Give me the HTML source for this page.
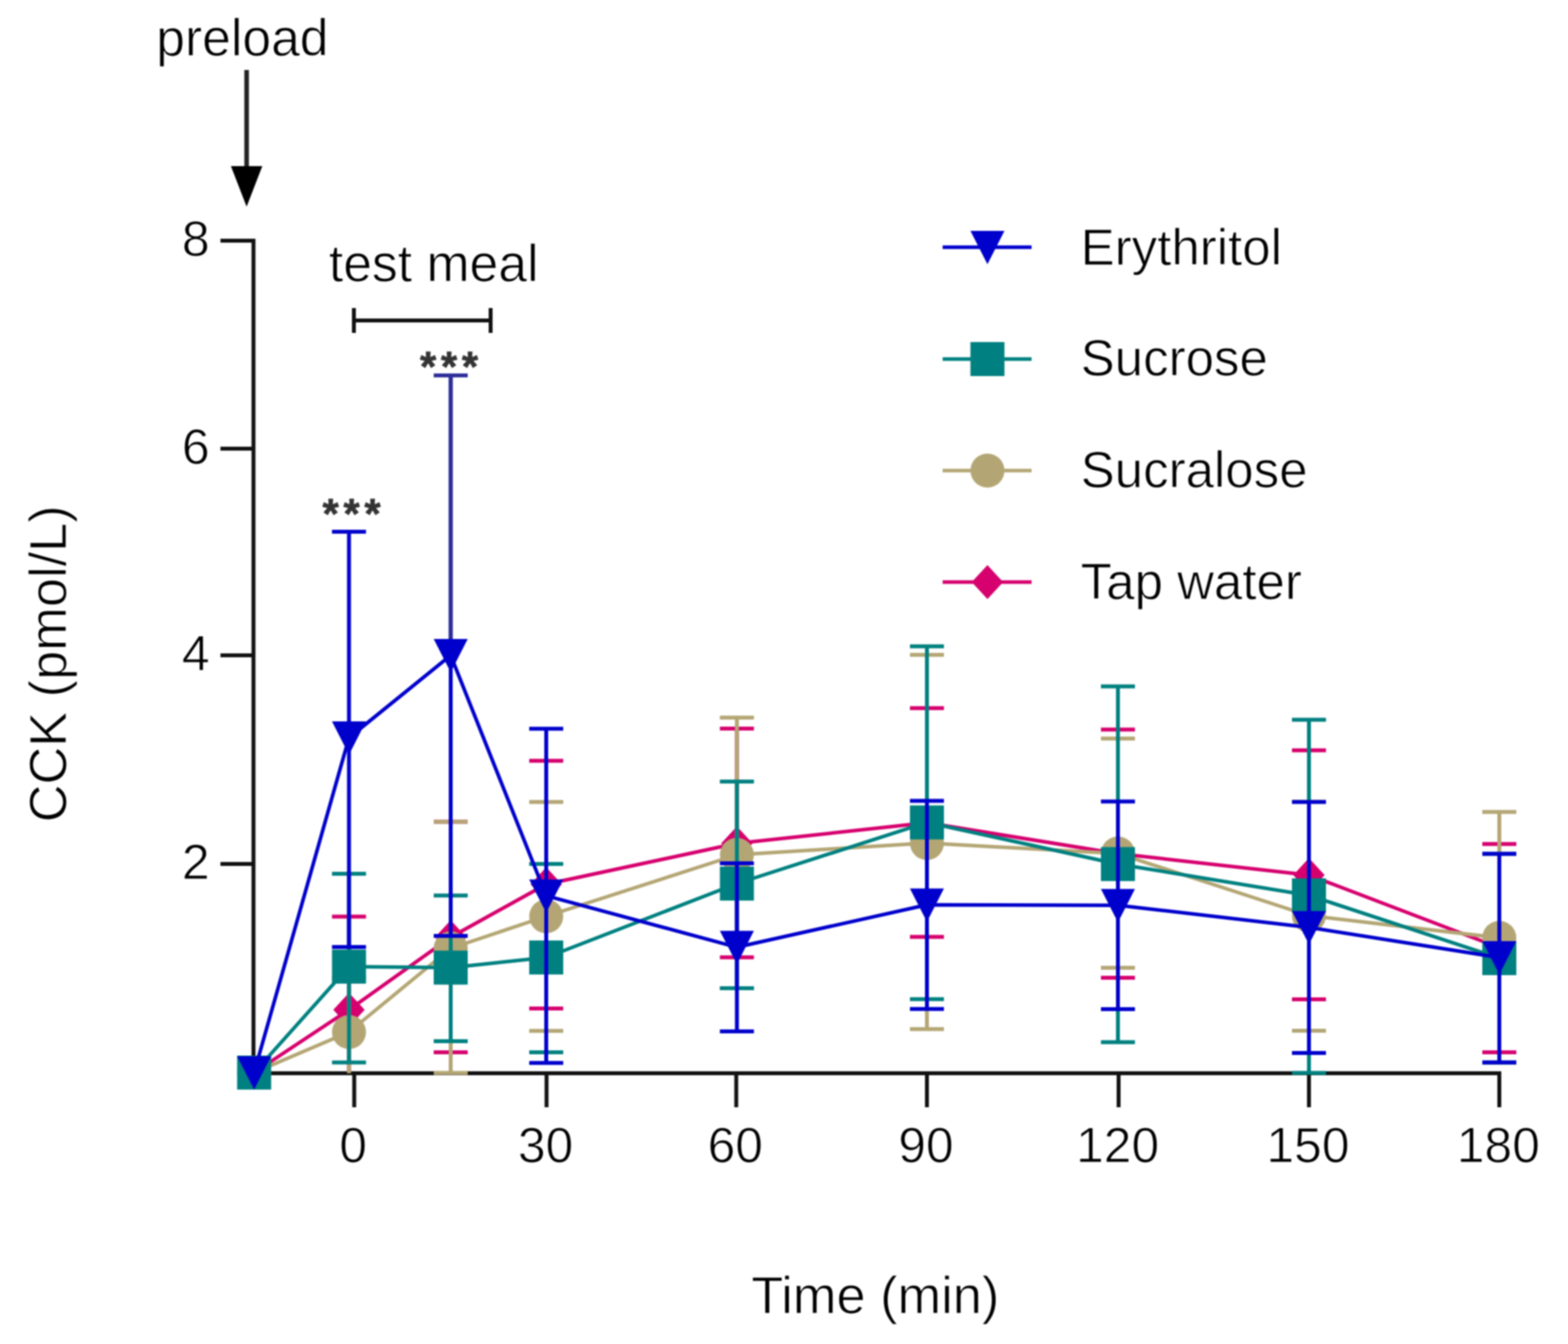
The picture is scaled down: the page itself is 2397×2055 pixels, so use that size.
<!DOCTYPE html>
<html><head><meta charset="utf-8"><title>CCK</title>
<style>html,body{margin:0;padding:0;background:#fff;overflow:hidden;}svg{display:block;filter:blur(1px);}</style>
</head><body>
<svg width="2397" height="2055" viewBox="0 0 2397 2055"><style>text{stroke:#fff;stroke-width:1.1px;}</style><rect width="2397" height="2055" fill="#fff"/><line x1="387.5" y1="365" x2="387.5" y2="1644" stroke="#111" stroke-width="6"/><line x1="337" y1="368" x2="390" y2="368" stroke="#111" stroke-width="6"/><line x1="337" y1="686" x2="390" y2="686" stroke="#111" stroke-width="6"/><line x1="337" y1="1002" x2="390" y2="1002" stroke="#111" stroke-width="6"/><line x1="337" y1="1321" x2="390" y2="1321" stroke="#111" stroke-width="6"/><line x1="385" y1="1641" x2="2295" y2="1641" stroke="#111" stroke-width="6"/><line x1="541.5" y1="1638" x2="541.5" y2="1693" stroke="#111" stroke-width="6"/><line x1="835.5" y1="1638" x2="835.5" y2="1693" stroke="#111" stroke-width="6"/><line x1="1125.5" y1="1638" x2="1125.5" y2="1693" stroke="#111" stroke-width="6"/><line x1="1417" y1="1638" x2="1417" y2="1693" stroke="#111" stroke-width="6"/><line x1="1710" y1="1638" x2="1710" y2="1693" stroke="#111" stroke-width="6"/><line x1="2001" y1="1638" x2="2001" y2="1693" stroke="#111" stroke-width="6"/><line x1="2292" y1="1638" x2="2292" y2="1693" stroke="#111" stroke-width="6"/><g><line x1="533.5" y1="1401.6" x2="533.5" y2="1641.0" stroke="#D6006E" stroke-width="6"/><line x1="507.5" y1="1401.6" x2="559.5" y2="1401.6" stroke="#D6006E" stroke-width="6"/><line x1="689" y1="1256.6" x2="689" y2="1609.0" stroke="#D6006E" stroke-width="6"/><line x1="663.0" y1="1256.6" x2="715.0" y2="1256.6" stroke="#D6006E" stroke-width="6"/><line x1="663.0" y1="1609.0" x2="715.0" y2="1609.0" stroke="#D6006E" stroke-width="6"/><line x1="835" y1="1163.3" x2="835" y2="1542.0" stroke="#D6006E" stroke-width="6"/><line x1="809.0" y1="1163.3" x2="861.0" y2="1163.3" stroke="#D6006E" stroke-width="6"/><line x1="809.0" y1="1542.0" x2="861.0" y2="1542.0" stroke="#D6006E" stroke-width="6"/><line x1="1126.5" y1="1114.0" x2="1126.5" y2="1463.7" stroke="#D6006E" stroke-width="6"/><line x1="1100.5" y1="1114.0" x2="1152.5" y2="1114.0" stroke="#D6006E" stroke-width="6"/><line x1="1100.5" y1="1463.7" x2="1152.5" y2="1463.7" stroke="#D6006E" stroke-width="6"/><line x1="1417" y1="1082.8" x2="1417" y2="1432.4" stroke="#D6006E" stroke-width="6"/><line x1="1391.0" y1="1082.8" x2="1443.0" y2="1082.8" stroke="#D6006E" stroke-width="6"/><line x1="1391.0" y1="1432.4" x2="1443.0" y2="1432.4" stroke="#D6006E" stroke-width="6"/><line x1="1709" y1="1115.6" x2="1709" y2="1495.0" stroke="#D6006E" stroke-width="6"/><line x1="1683.0" y1="1115.6" x2="1735.0" y2="1115.6" stroke="#D6006E" stroke-width="6"/><line x1="1683.0" y1="1495.0" x2="1735.0" y2="1495.0" stroke="#D6006E" stroke-width="6"/><line x1="2001" y1="1147.2" x2="2001" y2="1528.0" stroke="#D6006E" stroke-width="6"/><line x1="1975.0" y1="1147.2" x2="2027.0" y2="1147.2" stroke="#D6006E" stroke-width="6"/><line x1="1975.0" y1="1528.0" x2="2027.0" y2="1528.0" stroke="#D6006E" stroke-width="6"/><line x1="2292" y1="1290.6" x2="2292" y2="1609.0" stroke="#D6006E" stroke-width="6"/><line x1="2266.0" y1="1290.6" x2="2318.0" y2="1290.6" stroke="#D6006E" stroke-width="6"/><line x1="2266.0" y1="1609.0" x2="2318.0" y2="1609.0" stroke="#D6006E" stroke-width="6"/><polyline points="388.5,1640.0 533.5,1544.0 689,1433.0 835,1352.0 1126.5,1289.5 1417,1258.0 1709,1305.3 2001,1338.0 2292,1449.0" fill="none" stroke="#D6006E" stroke-width="5.5" stroke-linejoin="round"/><path d="M388.5,1614.0L412.5,1640.0L388.5,1666.0L364.5,1640.0Z" fill="#D6006E"/><path d="M533.5,1518.0L557.5,1544.0L533.5,1570.0L509.5,1544.0Z" fill="#D6006E"/><path d="M689.0,1407.0L713.0,1433.0L689.0,1459.0L665.0,1433.0Z" fill="#D6006E"/><path d="M835.0,1326.0L859.0,1352.0L835.0,1378.0L811.0,1352.0Z" fill="#D6006E"/><path d="M1126.5,1263.5L1150.5,1289.5L1126.5,1315.5L1102.5,1289.5Z" fill="#D6006E"/><path d="M1417.0,1232.0L1441.0,1258.0L1417.0,1284.0L1393.0,1258.0Z" fill="#D6006E"/><path d="M1709.0,1279.3L1733.0,1305.3L1709.0,1331.3L1685.0,1305.3Z" fill="#D6006E"/><path d="M2001.0,1312.0L2025.0,1338.0L2001.0,1364.0L1977.0,1338.0Z" fill="#D6006E"/><path d="M2292.0,1423.0L2316.0,1449.0L2292.0,1475.0L2268.0,1449.0Z" fill="#D6006E"/></g><g><line x1="533.5" y1="1495.0" x2="533.5" y2="1641.0" stroke="#B4A674" stroke-width="6"/><line x1="507.5" y1="1495.0" x2="559.5" y2="1495.0" stroke="#B4A674" stroke-width="6"/><line x1="689" y1="1256.6" x2="689" y2="1640.5" stroke="#B4A674" stroke-width="6"/><line x1="663.0" y1="1256.6" x2="715.0" y2="1256.6" stroke="#B4A674" stroke-width="6"/><line x1="663.0" y1="1640.5" x2="715.0" y2="1640.5" stroke="#B4A674" stroke-width="6"/><line x1="835" y1="1226.3" x2="835" y2="1576.3" stroke="#B4A674" stroke-width="6"/><line x1="809.0" y1="1226.3" x2="861.0" y2="1226.3" stroke="#B4A674" stroke-width="6"/><line x1="809.0" y1="1576.3" x2="861.0" y2="1576.3" stroke="#B4A674" stroke-width="6"/><line x1="1126.5" y1="1097.2" x2="1126.5" y2="1511.0" stroke="#B4A674" stroke-width="6"/><line x1="1100.5" y1="1097.2" x2="1152.5" y2="1097.2" stroke="#B4A674" stroke-width="6"/><line x1="1100.5" y1="1511.0" x2="1152.5" y2="1511.0" stroke="#B4A674" stroke-width="6"/><line x1="1417" y1="1001.3" x2="1417" y2="1573.4" stroke="#B4A674" stroke-width="6"/><line x1="1391.0" y1="1001.3" x2="1443.0" y2="1001.3" stroke="#B4A674" stroke-width="6"/><line x1="1391.0" y1="1573.4" x2="1443.0" y2="1573.4" stroke="#B4A674" stroke-width="6"/><line x1="1709" y1="1129.3" x2="1709" y2="1479.8" stroke="#B4A674" stroke-width="6"/><line x1="1683.0" y1="1129.3" x2="1735.0" y2="1129.3" stroke="#B4A674" stroke-width="6"/><line x1="1683.0" y1="1479.8" x2="1735.0" y2="1479.8" stroke="#B4A674" stroke-width="6"/><line x1="2001" y1="1225.8" x2="2001" y2="1576.0" stroke="#B4A674" stroke-width="6"/><line x1="1975.0" y1="1225.8" x2="2027.0" y2="1225.8" stroke="#B4A674" stroke-width="6"/><line x1="1975.0" y1="1576.0" x2="2027.0" y2="1576.0" stroke="#B4A674" stroke-width="6"/><line x1="2292" y1="1241.4" x2="2292" y2="1625.0" stroke="#B4A674" stroke-width="6"/><line x1="2266.0" y1="1241.4" x2="2318.0" y2="1241.4" stroke="#B4A674" stroke-width="6"/><line x1="2266.0" y1="1625.0" x2="2318.0" y2="1625.0" stroke="#B4A674" stroke-width="6"/><polyline points="388.5,1640.0 533.5,1578.0 689,1450.0 835,1401.0 1126.5,1307.0 1417,1289.0 1709,1305.0 2001,1400.0 2292,1434.0" fill="none" stroke="#B4A674" stroke-width="5.5" stroke-linejoin="round"/><circle cx="388.5" cy="1640.0" r="26" fill="#B4A674"/><circle cx="533.5" cy="1578.0" r="26" fill="#B4A674"/><circle cx="689.0" cy="1450.0" r="26" fill="#B4A674"/><circle cx="835.0" cy="1401.0" r="26" fill="#B4A674"/><circle cx="1126.5" cy="1307.0" r="26" fill="#B4A674"/><circle cx="1417.0" cy="1289.0" r="26" fill="#B4A674"/><circle cx="1709.0" cy="1305.0" r="26" fill="#B4A674"/><circle cx="2001.0" cy="1400.0" r="26" fill="#B4A674"/><circle cx="2292.0" cy="1434.0" r="26" fill="#B4A674"/></g><g><line x1="533.5" y1="1336.0" x2="533.5" y2="1624.6" stroke="#008080" stroke-width="6"/><line x1="507.5" y1="1336.0" x2="559.5" y2="1336.0" stroke="#008080" stroke-width="6"/><line x1="507.5" y1="1624.6" x2="559.5" y2="1624.6" stroke="#008080" stroke-width="6"/><line x1="689" y1="1369.3" x2="689" y2="1592.0" stroke="#008080" stroke-width="6"/><line x1="663.0" y1="1369.3" x2="715.0" y2="1369.3" stroke="#008080" stroke-width="6"/><line x1="663.0" y1="1592.0" x2="715.0" y2="1592.0" stroke="#008080" stroke-width="6"/><line x1="835" y1="1321.0" x2="835" y2="1609.0" stroke="#008080" stroke-width="6"/><line x1="809.0" y1="1321.0" x2="861.0" y2="1321.0" stroke="#008080" stroke-width="6"/><line x1="809.0" y1="1609.0" x2="861.0" y2="1609.0" stroke="#008080" stroke-width="6"/><line x1="1126.5" y1="1195.0" x2="1126.5" y2="1511.0" stroke="#008080" stroke-width="6"/><line x1="1100.5" y1="1195.0" x2="1152.5" y2="1195.0" stroke="#008080" stroke-width="6"/><line x1="1100.5" y1="1511.0" x2="1152.5" y2="1511.0" stroke="#008080" stroke-width="6"/><line x1="1417" y1="988.3" x2="1417" y2="1527.7" stroke="#008080" stroke-width="6"/><line x1="1391.0" y1="988.3" x2="1443.0" y2="988.3" stroke="#008080" stroke-width="6"/><line x1="1391.0" y1="1527.7" x2="1443.0" y2="1527.7" stroke="#008080" stroke-width="6"/><line x1="1709" y1="1049.6" x2="1709" y2="1593.4" stroke="#008080" stroke-width="6"/><line x1="1683.0" y1="1049.6" x2="1735.0" y2="1049.6" stroke="#008080" stroke-width="6"/><line x1="1683.0" y1="1593.4" x2="1735.0" y2="1593.4" stroke="#008080" stroke-width="6"/><line x1="2001" y1="1100.5" x2="2001" y2="1640.4" stroke="#008080" stroke-width="6"/><line x1="1975.0" y1="1100.5" x2="2027.0" y2="1100.5" stroke="#008080" stroke-width="6"/><line x1="1975.0" y1="1640.4" x2="2027.0" y2="1640.4" stroke="#008080" stroke-width="6"/><line x1="2292" y1="1305.4" x2="2292" y2="1624.5" stroke="#008080" stroke-width="6"/><line x1="2266.0" y1="1305.4" x2="2318.0" y2="1305.4" stroke="#008080" stroke-width="6"/><line x1="2266.0" y1="1624.5" x2="2318.0" y2="1624.5" stroke="#008080" stroke-width="6"/><polyline points="388.5,1640.0 533.5,1478.0 689,1479.5 835,1464.0 1126.5,1351.0 1417,1257.5 1709,1321.2 2001,1369.0 2292,1465.0" fill="none" stroke="#008080" stroke-width="5.5" stroke-linejoin="round"/><rect x="362.5" y="1614.0" width="52" height="52" fill="#008080"/><rect x="507.5" y="1452.0" width="52" height="52" fill="#008080"/><rect x="663.0" y="1453.5" width="52" height="52" fill="#008080"/><rect x="809.0" y="1438.0" width="52" height="52" fill="#008080"/><rect x="1100.5" y="1325.0" width="52" height="52" fill="#008080"/><rect x="1391.0" y="1231.5" width="52" height="52" fill="#008080"/><rect x="1683.0" y="1295.2" width="52" height="52" fill="#008080"/><rect x="1975.0" y="1343.0" width="52" height="52" fill="#008080"/><rect x="2266.0" y="1439.0" width="52" height="52" fill="#008080"/></g><g><line x1="533.5" y1="813.0" x2="533.5" y2="1448.0" stroke="#0000CC" stroke-width="6"/><line x1="507.5" y1="813.0" x2="559.5" y2="813.0" stroke="#0000CC" stroke-width="6"/><line x1="507.5" y1="1448.0" x2="559.5" y2="1448.0" stroke="#0000CC" stroke-width="6"/><line x1="689" y1="574.0" x2="689" y2="1431.0" stroke="#0000CC" stroke-width="6"/><line x1="689" y1="574.0" x2="689" y2="1002.0" stroke="#2E2E9A" stroke-width="6.5"/><line x1="663.0" y1="574.0" x2="715.0" y2="574.0" stroke="#2E2E9A" stroke-width="6"/><line x1="663.0" y1="1431.0" x2="715.0" y2="1431.0" stroke="#0000CC" stroke-width="6"/><line x1="835" y1="1114.3" x2="835" y2="1625.3" stroke="#0000CC" stroke-width="6"/><line x1="809.0" y1="1114.3" x2="861.0" y2="1114.3" stroke="#0000CC" stroke-width="6"/><line x1="809.0" y1="1625.3" x2="861.0" y2="1625.3" stroke="#0000CC" stroke-width="6"/><line x1="1126.5" y1="1320.0" x2="1126.5" y2="1577.0" stroke="#0000CC" stroke-width="6"/><line x1="1100.5" y1="1320.0" x2="1152.5" y2="1320.0" stroke="#0000CC" stroke-width="6"/><line x1="1100.5" y1="1577.0" x2="1152.5" y2="1577.0" stroke="#0000CC" stroke-width="6"/><line x1="1417" y1="1224.6" x2="1417" y2="1542.7" stroke="#0000CC" stroke-width="6"/><line x1="1391.0" y1="1224.6" x2="1443.0" y2="1224.6" stroke="#0000CC" stroke-width="6"/><line x1="1391.0" y1="1542.7" x2="1443.0" y2="1542.7" stroke="#0000CC" stroke-width="6"/><line x1="1709" y1="1225.6" x2="1709" y2="1543.0" stroke="#0000CC" stroke-width="6"/><line x1="1683.0" y1="1225.6" x2="1735.0" y2="1225.6" stroke="#0000CC" stroke-width="6"/><line x1="1683.0" y1="1543.0" x2="1735.0" y2="1543.0" stroke="#0000CC" stroke-width="6"/><line x1="2001" y1="1226.2" x2="2001" y2="1610.0" stroke="#0000CC" stroke-width="6"/><line x1="1975.0" y1="1226.2" x2="2027.0" y2="1226.2" stroke="#0000CC" stroke-width="6"/><line x1="1975.0" y1="1610.0" x2="2027.0" y2="1610.0" stroke="#0000CC" stroke-width="6"/><line x1="2292" y1="1305.4" x2="2292" y2="1624.5" stroke="#0000CC" stroke-width="6"/><line x1="2266.0" y1="1305.4" x2="2318.0" y2="1305.4" stroke="#0000CC" stroke-width="6"/><line x1="2266.0" y1="1624.5" x2="2318.0" y2="1624.5" stroke="#0000CC" stroke-width="6"/><polyline points="388.5,1640.0 533.5,1128.0 689,1002.0 835,1369.7 1126.5,1448.3 1417,1383.5 1709,1384.2 2001,1418.0 2292,1464.0" fill="none" stroke="#0000CC" stroke-width="5.5" stroke-linejoin="round"/><path d="M362.5,1615.0H414.5L388.5,1666.0Z" fill="#0000CC"/><path d="M507.5,1103.0H559.5L533.5,1154.0Z" fill="#0000CC"/><path d="M663.0,977.0H715.0L689.0,1028.0Z" fill="#0000CC"/><path d="M809.0,1344.7H861.0L835.0,1395.7Z" fill="#0000CC"/><path d="M1100.5,1423.3H1152.5L1126.5,1474.3Z" fill="#0000CC"/><path d="M1391.0,1358.5H1443.0L1417.0,1409.5Z" fill="#0000CC"/><path d="M1683.0,1359.2H1735.0L1709.0,1410.2Z" fill="#0000CC"/><path d="M1975.0,1393.0H2027.0L2001.0,1444.0Z" fill="#0000CC"/><path d="M2266.0,1439.0H2318.0L2292.0,1490.0Z" fill="#0000CC"/></g><text x="370.5" y="85" font-family="'Liberation Sans', Arial, sans-serif" font-size="79" text-anchor="middle" fill="#000">preload</text><line x1="377" y1="107" x2="377" y2="258" stroke="#222" stroke-width="7"/><path d="M353,254H401L377,316Z" fill="#000"/><text x="663" y="430" font-family="'Liberation Sans', Arial, sans-serif" font-size="79" text-anchor="middle" fill="#000">test meal</text><line x1="541" y1="490" x2="750" y2="490" stroke="#111" stroke-width="6"/><line x1="541" y1="471" x2="541" y2="509" stroke="#111" stroke-width="6"/><line x1="750" y1="471" x2="750" y2="509" stroke="#111" stroke-width="6"/><text x="541" y="808" font-family="'Liberation Sans', Arial, sans-serif" font-size="64" font-weight="bold" letter-spacing="7.1" text-anchor="middle" fill="#333" style="stroke:#333;stroke-width:0.8px;stroke-linejoin:round">***</text><text x="690" y="583" font-family="'Liberation Sans', Arial, sans-serif" font-size="64" font-weight="bold" letter-spacing="7.1" text-anchor="middle" fill="#333" style="stroke:#333;stroke-width:0.8px;stroke-linejoin:round">***</text><text x="320.5" y="391" font-family="'Liberation Sans', Arial, sans-serif" font-size="76.5" text-anchor="end" fill="#000">8</text><text x="320.5" y="709" font-family="'Liberation Sans', Arial, sans-serif" font-size="76.5" text-anchor="end" fill="#000">6</text><text x="320.5" y="1025" font-family="'Liberation Sans', Arial, sans-serif" font-size="76.5" text-anchor="end" fill="#000">4</text><text x="320.5" y="1344" font-family="'Liberation Sans', Arial, sans-serif" font-size="76.5" text-anchor="end" fill="#000">2</text><text x="540.0" y="1776.5" font-family="'Liberation Sans', Arial, sans-serif" font-size="76" text-anchor="middle" fill="#000">0</text><text x="834.0" y="1776.5" font-family="'Liberation Sans', Arial, sans-serif" font-size="76" text-anchor="middle" fill="#000">30</text><text x="1124.0" y="1776.5" font-family="'Liberation Sans', Arial, sans-serif" font-size="76" text-anchor="middle" fill="#000">60</text><text x="1415.5" y="1776.5" font-family="'Liberation Sans', Arial, sans-serif" font-size="76" text-anchor="middle" fill="#000">90</text><text x="1708.5" y="1776.5" font-family="'Liberation Sans', Arial, sans-serif" font-size="76" text-anchor="middle" fill="#000">120</text><text x="1999.5" y="1776.5" font-family="'Liberation Sans', Arial, sans-serif" font-size="76" text-anchor="middle" fill="#000">150</text><text x="2290.5" y="1776.5" font-family="'Liberation Sans', Arial, sans-serif" font-size="76" text-anchor="middle" fill="#000">180</text><text x="1338" y="2008" font-family="'Liberation Sans', Arial, sans-serif" font-size="80" text-anchor="middle" fill="#000">Time (min)</text><text transform="translate(101,1015) rotate(-90)" x="0" y="0" font-family="'Liberation Sans', Arial, sans-serif" font-size="80" text-anchor="middle" fill="#000">CCK (pmol/L)</text><line x1="1441" y1="378" x2="1577" y2="378" stroke="#0000CC" stroke-width="5.5"/><path d="M1483.5,353.0H1535.5L1509.5,404.0Z" fill="#0000CC"/><text x="1652" y="404.5" font-family="'Liberation Sans', Arial, sans-serif" font-size="78" fill="#000">Erythritol</text><line x1="1441" y1="549" x2="1577" y2="549" stroke="#008080" stroke-width="5.5"/><rect x="1483.5" y="523.0" width="52" height="52" fill="#008080"/><text x="1652" y="573.5" font-family="'Liberation Sans', Arial, sans-serif" font-size="78" fill="#000">Sucrose</text><line x1="1441" y1="719.5" x2="1577" y2="719.5" stroke="#B4A674" stroke-width="5.5"/><circle cx="1509.5" cy="719.5" r="26" fill="#B4A674"/><text x="1652" y="745.0" font-family="'Liberation Sans', Arial, sans-serif" font-size="78" fill="#000">Sucralose</text><line x1="1441" y1="890" x2="1577" y2="890" stroke="#D6006E" stroke-width="5.5"/><path d="M1509.5,864.0L1533.5,890.0L1509.5,916.0L1485.5,890.0Z" fill="#D6006E"/><text x="1652" y="916" font-family="'Liberation Sans', Arial, sans-serif" font-size="78" fill="#000">Tap water</text></svg>
</body></html>
